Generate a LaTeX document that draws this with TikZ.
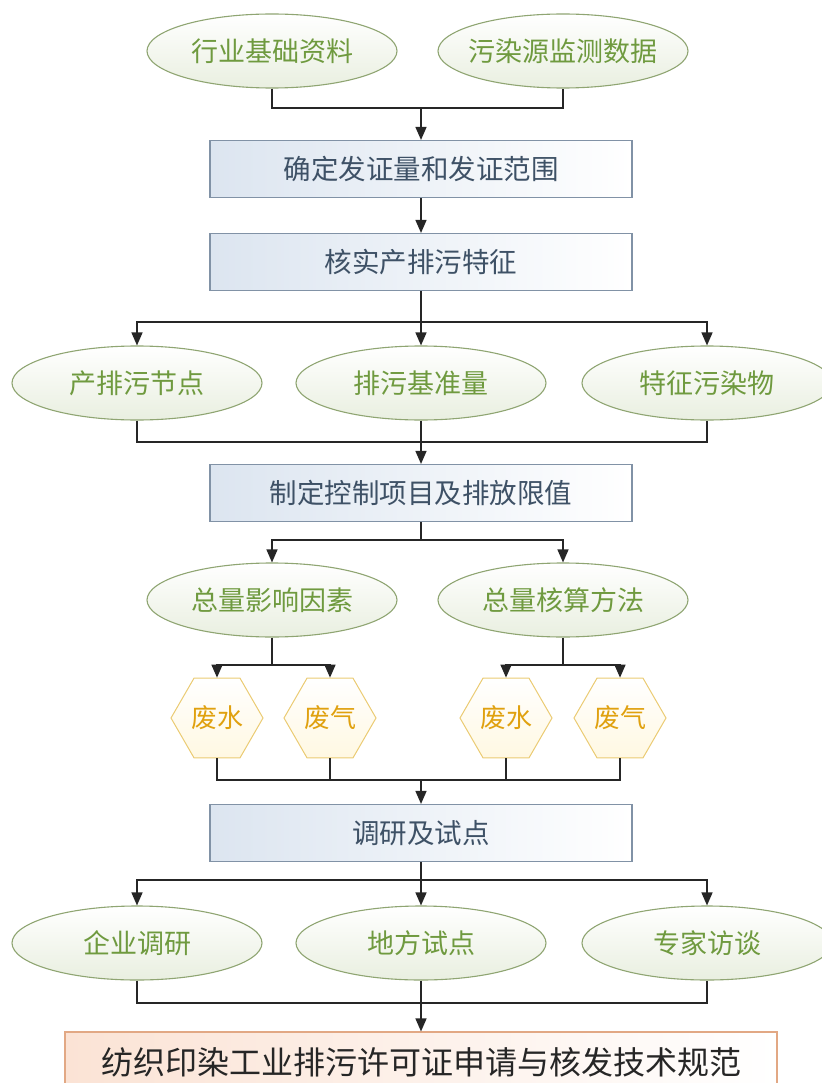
\documentclass[tikz,border=0pt]{standalone}
\usepackage{fontspec}
\usepackage{tikz}
\usetikzlibrary{arrows.meta, shapes.geometric}
\newfontfamily\cjk{Noto Sans CJK SC}
\definecolor{ellline}{HTML}{8FA572}
\definecolor{elltext}{HTML}{6F9A3F}
\definecolor{ellfill}{HTML}{E9EFE0}
\definecolor{boxline}{HTML}{8192A6}
\definecolor{boxtext}{HTML}{3E5166}
\definecolor{boxfill}{HTML}{DCE5F0}
\definecolor{hexline}{HTML}{EBCB73}
\definecolor{hextext}{HTML}{E0A10F}
\definecolor{hexfill}{HTML}{FFF8E2}
\definecolor{endline}{HTML}{E2A884}
\definecolor{endfill}{HTML}{FBE3D5}
\tikzset{
  srcnode/.style={ellipse, draw=ellline, line width=1.1pt, top color=white, bottom color=ellfill,
    minimum width=250pt, minimum height=74pt, inner xsep=-14pt, inner ysep=0pt,
    text=elltext, font=\cjk\fontsize{27}{27}\selectfont},
  stepbox/.style={rectangle, draw=boxline, line width=1.1pt, left color=boxfill, right color=white,
    minimum width=422pt, minimum height=57pt, inner sep=0pt,
    text=boxtext, font=\cjk\fontsize{27.5}{27.5}\selectfont},
  gasnode/.style={regular polygon, regular polygon sides=6, draw=hexline, line width=1pt,
    top color=white, bottom color=hexfill, minimum size=92pt, inner sep=0pt,
    text=hextext, font=\cjk\fontsize{26}{26}\selectfont},
  resultbox/.style={rectangle, draw=endline, line width=1.1pt, left color=endfill, right color=white,
    minimum width=712pt, minimum height=60pt, inner sep=0pt,
    text=black!85, font=\cjk\fontsize{32}{32}\selectfont},
  link/.style={line width=1.4pt, black!85},
  arr/.style={link, -{Triangle[length=13pt, width=11pt]}}
}
\begin{document}
\begin{tikzpicture}[x=1pt, y=-1pt]
  \useasboundingbox (0,0) rectangle (821,1083);
  \node[srcnode] (src1) at (272,51) {行业基础资料};
  \node[srcnode] (src2) at (563,51) {污染源监测数据};
  \node[stepbox] (box1) at (421,169) {确定发证量和发证范围};
  \node[stepbox] (box2) at (421,262) {核实产排污特征};
  \node[srcnode] (pol1) at (137,383) {产排污节点};
  \node[srcnode] (pol2) at (421,383) {排污基准量};
  \node[srcnode] (pol3) at (707,383) {特征污染物};
  \node[stepbox] (box3) at (421,493) {制定控制项目及排放限值};
  \node[srcnode] (tot1) at (272,600) {总量影响因素};
  \node[srcnode] (tot2) at (563,600) {总量核算方法};
  \node[gasnode] (hex1) at (217,718) {废水};
  \node[gasnode] (hex2) at (330,718) {废气};
  \node[gasnode] (hex3) at (506,718) {废水};
  \node[gasnode] (hex4) at (620,718) {废气};
  \node[stepbox] (box4) at (421,833) {调研及试点};
  \node[srcnode] (inv1) at (137,943) {企业调研};
  \node[srcnode] (inv2) at (421,943) {地方试点};
  \node[srcnode] (inv3) at (707,943) {专家访谈};
  \node[resultbox] (spec) at (421,1062) {纺织印染工业排污许可证申请与核发技术规范};

  \coordinate (j1) at (421,108);
  \coordinate (j2) at (421,322);
  \coordinate (j3) at (421,442);
  \coordinate (j4) at (421,540);
  \coordinate (j5) at (272,665);
  \coordinate (j6) at (563,665);
  \coordinate (j7) at (421,780);
  \coordinate (j8) at (421,880);
  \coordinate (j9) at (421,1003);

  \draw[link] (src1.south) |- (j1) -| (src2.south);
  \draw[arr] (j1) -- (box1.north);
  \draw[arr] (box1.south) -- (box2.north);
  \draw[link] (box2.south) -- (j2);
  \draw[arr] (j2) -| (pol1.north);
  \draw[arr] (j2) -- (pol2.north);
  \draw[arr] (j2) -| (pol3.north);
  \draw[link] (pol1.south) |- (j3) -| (pol3.south);
  \draw[link] (pol2.south) -- (j3);
  \draw[arr] (j3) -- (box3.north);
  \draw[link] (box3.south) -- (j4);
  \draw[arr] (j4) -| (tot1.north);
  \draw[arr] (j4) -| (tot2.north);
  \draw[link] (tot1.south) -- (j5);
  \draw[arr] (j5) -| (hex1.north);
  \draw[arr] (j5) -| (hex2.north);
  \draw[link] (tot2.south) -- (j6);
  \draw[arr] (j6) -| (hex3.north);
  \draw[arr] (j6) -| (hex4.north);
  \draw[link] (hex1.south) |- (j7) -| (hex4.south);
  \draw[link] (hex2.south) |- (j7);
  \draw[link] (hex3.south) |- (j7);
  \draw[arr] (j7) -- (box4.north);
  \draw[link] (box4.south) -- (j8);
  \draw[arr] (j8) -| (inv1.north);
  \draw[arr] (j8) -- (inv2.north);
  \draw[arr] (j8) -| (inv3.north);
  \draw[link] (inv1.south) |- (j9) -| (inv3.south);
  \draw[link] (inv2.south) -- (j9);
  \draw[arr] (j9) -- (spec.north);
\end{tikzpicture}
\end{document}
